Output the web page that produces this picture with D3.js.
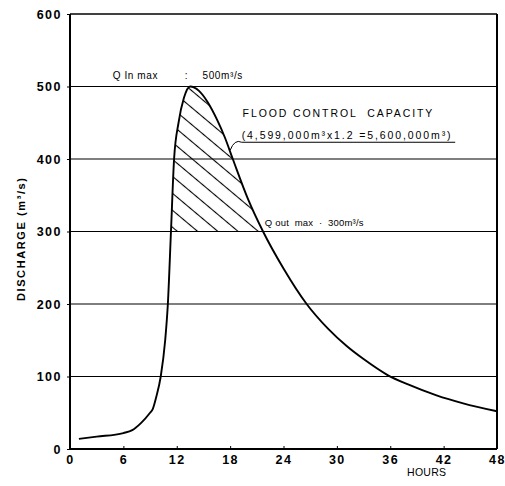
<!DOCTYPE html>
<html>
<head>
<meta charset="utf-8">
<script src="https://cdn.jsdelivr.net/npm/d3@7"></script>
<style>
  body { margin: 0; background: #fff; }
  text { font-family: "Liberation Sans", Arial, sans-serif; fill: #000; }
</style>
</head>
<body>
<script>
// hydrograph: hours since start, discharge in m3/s
const hours = [1, 3, 6, 7, 8, 9, 9.3, 9.7, 10.2, 10.7, 11.0, 11.35, 11.7, 12.2, 12.8, 13.5,
  14.5, 15.5, 16.5, 17.4, 18.3, 20, 21.7, 24, 26.6, 29, 31.1, 33, 35.7, 38, 41.2, 44.2, 48];
const discharge = [14, 17, 22, 26, 36, 50, 55, 72, 100, 150, 200, 300, 400, 450, 484, 500,
  494, 478, 455, 430, 400, 345, 300, 249, 200, 166, 142, 124, 102, 89, 74, 63, 52];

const xTicks = [0, 6, 12, 18, 24, 30, 36, 42, 48];
const yTicks = [0, 100, 200, 300, 400, 500, 600];
const gridValues = [100, 200, 300, 400, 500];
const qInMax = 500;
const qOutMax = 300;

const margin = {top: 14, right: 8, bottom: 37, left: 70};
const W = 505, H = 486;
const width = W - margin.left - margin.right;
const height = H - margin.top - margin.bottom;

const x = d3.scaleLinear().domain([0, 48]).range([0, width]);
const y = d3.scaleLinear().domain([0, 600]).range([height, 0]);

const data = hours.map((h, i) => ({h, v: discharge[i]}));

const svg = d3.select('body').append('svg')
  .attr('width', W)
  .attr('height', H);

const defs = svg.append('defs');
defs.append('pattern')
  .attr('id', 'hatch')
  .attr('patternUnits', 'userSpaceOnUse')
  .attr('width', 13)
  .attr('height', 13)
  .attr('patternTransform', 'rotate(40)')
  .append('line')
    .attr('x1', 0).attr('y1', 6.5)
    .attr('x2', 13).attr('y2', 6.5)
    .attr('stroke', '#000')
    .attr('stroke-width', 1.1);

// only the part above Q out max gets the hatching
defs.append('clipPath')
  .attr('id', 'aboveOut')
  .append('rect')
    .attr('x', 0)
    .attr('y', 0)
    .attr('width', width)
    .attr('height', y(qOutMax));

const g = svg.append('g')
  .attr('transform', `translate(${margin.left},${margin.top})`);

// horizontal grid
g.selectAll('.grid')
  .data(gridValues)
  .enter().append('line')
    .attr('class', 'grid')
    .attr('x1', 0)
    .attr('x2', width)
    .attr('y1', d => y(d))
    .attr('y2', d => y(d))
    .attr('stroke', '#000')
    .attr('stroke-width', 1.1);

const curve = d3.curveMonotoneX;

g.append('path')
  .datum(data)
  .attr('clip-path', 'url(#aboveOut)')
  .attr('fill', 'url(#hatch)')
  .attr('d', d3.area().x(d => x(d.h)).y0(y(0)).y1(d => y(d.v)).curve(curve));

g.append('path')
  .datum(data)
  .attr('fill', 'none')
  .attr('stroke', '#000')
  .attr('stroke-width', 1.9)
  .attr('d', d3.line().x(d => x(d.h)).y(d => y(d.v)).curve(curve));

// frame
g.append('line').attr('x1', 0).attr('x2', width).attr('y1', 0).attr('y2', 0)
  .attr('stroke', '#000').attr('stroke-width', 1.5);
g.append('line').attr('x1', width).attr('x2', width).attr('y1', 0).attr('y2', height)
  .attr('stroke', '#000').attr('stroke-width', 2);

// axes
const xAxis = g.append('g')
  .attr('transform', `translate(0,${height})`)
  .call(d3.axisBottom(x).tickValues(xTicks).tickSize(-3).tickPadding(6));
const yAxis = g.append('g')
  .call(d3.axisLeft(y).tickValues(yTicks).tickSize(3).tickPadding(5));

[xAxis, yAxis].forEach(ax => {
  ax.select('.domain').attr('stroke', '#000').attr('stroke-width', 2);
  ax.selectAll('.tick line').attr('stroke', '#000');
  ax.selectAll('.tick text')
    .attr('font-size', 12.5)
    .attr('font-weight', 'bold')
    .attr('letter-spacing', 1.5)
    .attr('font-family', '"Liberation Sans", Arial, sans-serif');
});
yAxis.select('.domain').attr('d', `M0,${height}V0`);
xAxis.select('.domain').attr('d', `M0,0H${width}`);

// axis titles
svg.append('text')
  .attr('transform', `translate(21,${margin.top + y(290)}) rotate(-90)`)
  .attr('text-anchor', 'middle')
  .attr('dy', '0.35em')
  .attr('font-size', 11)
  .attr('font-weight', 'bold')
  .attr('letter-spacing', 1.6)
  .text('DISCHARGE (m³/s)');

svg.append('text')
  .attr('x', margin.left + x(40.1))
  .attr('y', H - 10)
  .attr('text-anchor', 'middle')
  .attr('font-size', 10.5)
  .attr('letter-spacing', 0.3)
  .text('HOURS');

// annotations
const nb = '\u00a0';
const ann = g.append('g')
  .attr('font-size', 10)
  .attr('letter-spacing', 0.6);

ann.append('text')
  .attr('x', x(4.8))
  .attr('y', y(qInMax) - 8)
  .text('Q In max');
ann.append('text')
  .attr('x', x(12.9))
  .attr('y', y(qInMax) - 8)
  .text(':');
ann.append('text')
  .attr('x', x(14.9))
  .attr('y', y(qInMax) - 8)
  .text('500m³/s');

ann.append('text')
  .attr('x', x(21.9))
  .attr('y', y(qOutMax) - 6)
  .attr('font-size', 9.5)
  .attr('letter-spacing', 0.2)
  .text(`Q out${nb}${nb}max${nb}${nb}·${nb}${nb}300m³/s`);

ann.append('text')
  .attr('x', x(19.4))
  .attr('y', y(462) + 3)
  .attr('font-size', 10.5)
  .attr('letter-spacing', 1.9)
  .text(`FLOOD CONTROL${nb} CAPACITY`);
ann.append('text')
  .attr('x', x(19.3))
  .attr('y', y(430) + 2)
  .attr('font-size', 10.5)
  .attr('letter-spacing', 1.9)
  .text('(4,599,000m³x1.2 =5,600,000m³)');

// underline and leader to the curve
g.append('line')
  .attr('x1', x(19.3))
  .attr('x2', x(43.3))
  .attr('y1', y(430) + 5)
  .attr('y2', y(430) + 5)
  .attr('stroke', '#000')
  .attr('stroke-width', 1);
g.append('path')
  .attr('fill', 'none')
  .attr('stroke', '#000')
  .attr('stroke-width', 1)
  .attr('d', `M${x(18.0)},${y(412)} Q${x(18.5)},${y(428)} ${x(19.3)},${y(430) + 5}`);
</script>
</body>
</html>
